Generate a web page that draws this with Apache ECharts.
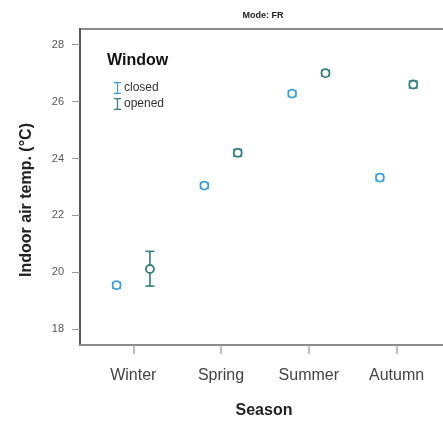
<!DOCTYPE html>
<html><head><meta charset="utf-8">
<script src="https://cdn.jsdelivr.net/npm/echarts@6/dist/echarts.min.js"></script>
<style>html,body{margin:0;padding:0;background:#fff}#c{width:443px;height:426px}</style>
</head><body><div id="c"></div>
<script>
const seasons = ['Winter', 'Spring', 'Summer', 'Autumn'];
const closedMean = [19.55, 23.05, 26.28, 23.33];
const closedLow  = [19.45, 22.95, 26.18, 23.22];
const closedHigh = [19.65, 23.15, 26.38, 23.44];
const openedMean = [20.12, 24.20, 27.00, 26.60];
const openedLow  = [19.52, 24.08, 26.90, 26.48];
const openedHigh = [20.74, 24.32, 27.10, 26.72];
const yTicks = [18, 20, 22, 24, 26, 28];
const groupOffset = 0.19;

const chart = echarts.init(document.getElementById('c'), null, {renderer: 'canvas'});
const FONT = 'Liberation Sans, Arial, sans-serif';

function build(means, lows, highs, sign) {
  return seasons.map((s, i) => [i + sign * groupOffset, means[i], lows[i], highs[i]]);
}
function renderItem(params, api) {
  const x = api.value(0);
  const m = api.coord([x, api.value(1)]);
  const lo = api.coord([x, api.value(2)]);
  const hi = api.coord([x, api.value(3)]);
  const color = api.visual('color');
  const cw = 4.5;
  const st = {stroke: color, lineWidth: 1.6};
  return {
    type: 'group',
    children: [
      {type: 'line', shape: {x1: m[0], y1: hi[1], x2: m[0], y2: lo[1]}, style: st},
      {type: 'line', shape: {x1: m[0] - cw, y1: hi[1], x2: m[0] + cw, y2: hi[1]}, style: st},
      {type: 'line', shape: {x1: m[0] - cw, y1: lo[1], x2: m[0] + cw, y2: lo[1]}, style: st},
      {type: 'circle', shape: {cx: m[0], cy: m[1], r: 4}, style: {fill: '#fff', stroke: color, lineWidth: 1.8}}
    ]
  };
}
const iPath = 'path://M0,0H7V1.2H4.1V10.8H7V12H0V10.8H2.9V1.2H0Z';

chart.setOption({
  animation: false,
  title: {
    text: 'Mode: FR', left: 258, top: 6, textAlign: 'center',
    textStyle: {fontFamily: FONT, fontSize: 9, fontWeight: 'bold', color: '#222'}
  },
  graphic: [{
    type: 'text', left: 107, top: 53,
    style: {text: 'Window', font: 'bold 16px ' + FONT, fill: '#111'}
  }],
  legend: {
    orient: 'vertical', left: 109, top: 77, itemGap: 4,
    itemWidth: 7, itemHeight: 12,
    textStyle: {fontFamily: FONT, fontSize: 12, color: '#333', padding: [0, 0, 0, -2]},
    data: [{name: 'closed', icon: iPath}, {name: 'opened', icon: iPath}]
  },
  grid: {left: 80, width: 378, top: 29, bottom: 81, show: true, borderColor: '#8a8a8a', borderWidth: 2,
         containLabel: false, outerBoundsMode: 'none'},
  xAxis: {
    type: 'value', min: -0.607, max: 3.7,
    axisLine: {show: true, onZero: false, lineStyle: {color: '#8a8a8a', width: 2}},
    axisTick: {show: true, length: 9, customValues: [0, 1, 2, 3], lineStyle: {color: '#aaa', width: 1.5}},
    axisLabel: {
      customValues: [0, 1, 2, 3], margin: 23,
      formatter: v => seasons[Math.round(v)] || '',
      fontFamily: FONT, fontSize: 16, color: '#444'
    },
    splitLine: {show: false},
    name: 'Season', nameLocation: 'middle', nameGap: 58,
    nameTextStyle: {fontFamily: FONT, fontSize: 16, fontWeight: 'bold', color: '#222', padding: [0, 10, 0, 0]}
  },
  yAxis: {
    type: 'value', min: 17.45, max: 28.55,
    axisLine: {show: true, onZero: false, lineStyle: {color: '#555', width: 2}},
    axisTick: {show: true, length: 8, customValues: yTicks, lineStyle: {color: '#999'}},
    axisLabel: {customValues: yTicks, margin: 16, fontFamily: FONT, fontSize: 11, color: '#555'},
    splitLine: {show: false},
    name: 'Indoor air temp. (°C)', nameLocation: 'middle', nameGap: 45,
    nameTextStyle: {fontFamily: FONT, fontSize: 16, fontWeight: 'bold', color: '#222', padding: [0, 26, 0, 0]}
  },
  series: [
    {name: 'closed', type: 'custom', renderItem, itemStyle: {color: '#3a9fe2'},
     encode: {x: 0, y: 1}, data: build(closedMean, closedLow, closedHigh, -1)},
    {name: 'opened', type: 'custom', renderItem, itemStyle: {color: '#2f7f7c'},
     encode: {x: 0, y: 1}, data: build(openedMean, openedLow, openedHigh, 1)}
  ]
});
</script></body></html>
